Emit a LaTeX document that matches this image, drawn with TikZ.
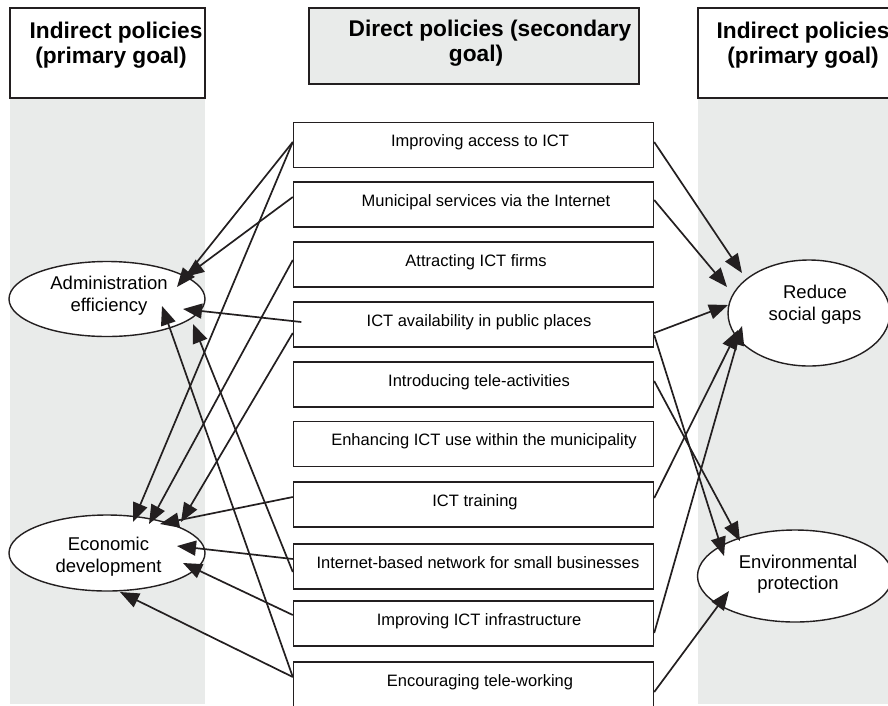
\documentclass[tikz,border=0pt]{standalone}
\usepackage{fontspec}
\setmainfont{Liberation Sans}
\usetikzlibrary{arrows.meta,calc,shapes.geometric}
\definecolor{colgray}{RGB}{233,235,234}
\definecolor{ink}{RGB}{35,31,32}
\newcommand\tshift[1]{\hspace*{#1pt}}
\begin{document}
\begin{tikzpicture}[x=1pt,y=-1pt,
  hdr/.style={draw=ink, line width=1.4pt, rectangle, inner sep=0pt},
  hdrtext/.style={font=\bfseries\fontsize{22.7}{25}\selectfont, align=center, inner sep=0pt, anchor=north},
  pbox/.style={draw=ink, fill=white, line width=1.4pt, rectangle, minimum width=360pt, minimum height=45pt,
    inner sep=0pt, text height=12pt, text depth=9pt, font=\fontsize{16.5}{19}\selectfont},
  ell/.style={ellipse, draw=ink, fill=white, line width=1.4pt, inner sep=0pt},
  etext/.style={font=\fontsize{18.5}{22}\selectfont, align=center, inner sep=0pt},
  arr/.style={draw=ink, line width=1.7pt, -{Triangle[length=19pt 0 0,width=15pt 0]}}
]
\useasboundingbox (0,0) rectangle (888,705);
% grey columns
\fill[colgray] (10,98) rectangle (205,704);
\fill[colgray] (698,98) rectangle (900,704);
% headers
\node[hdr, fill=white, minimum width=195pt, minimum height=90pt] (hL) at (107.5,53) {};
\node[hdr, fill=colgray, minimum width=330pt, minimum height=76pt] (hM) at (474,46) {};
\node[hdr, fill=white, minimum width=195pt, minimum height=90pt] (hR) at (795.5,53) {};
\node[hdrtext] (hLt) at (111,21.7) {\tshift{10}Indirect policies\\(primary goal)};
\node[hdrtext] (hMt) at (476,19.5) {\tshift{28}Direct policies (secondary\\goal)};
\node[hdrtext] (hRt) at (803,21.7) {Indirect policies\\(primary goal)};
% policy boxes
\node[pbox] (b1) at (473.5,145) {\tshift{13}Improving access to ICT};
\node[pbox] (b2) at (473.5,204.5) {\tshift{25}Municipal services via the Internet};
\node[pbox] (b3) at (473.5,264.5) {\tshift{5}Attracting ICT firms};
\node[pbox] (b4) at (473.5,324.5) {\tshift{11}ICT availability in public places};
\node[pbox] (b5) at (473.5,384.5) {\tshift{11}Introducing tele-activities};
\node[pbox] (b6) at (473.5,444) {\tshift{21}Enhancing ICT use within the municipality};
\node[pbox] (b7) at (473.5,504.5) {\tshift{3}ICT training};
\node[pbox] (b8) at (473.5,566.5) {\tshift{9}Internet-based network for small businesses};
\node[pbox] (b9) at (473.5,623.5) {\tshift{11}Improving ICT infrastructure};
\node[pbox] (b10) at (473.5,684.5) {\tshift{13}Encouraging tele-working};
% goal ellipses
\node[ell, minimum width=196pt, minimum height=75pt] (admin) at (107,299) {};
\node[ell, minimum width=196pt, minimum height=76pt] (econ) at (107,553) {};
\node[ell, minimum width=162pt, minimum height=106pt] (gaps) at (809,313) {};
\node[ell, minimum width=195pt, minimum height=92pt] (env) at (795,576) {};
\node[etext] (adminT) at (109,296.2) {Administration\\efficiency};
\node[etext] (econT) at (108.5,556.3) {Economic\\development};
\node[etext] (gapsT) at (815,304.3) {Reduce\\social gaps};
\node[etext, font=\fontsize{18.5}{21}\selectfont] (envT) at (798,573.8) {Environmental\\protection};
% arrows to Administration efficiency
\draw[arr] ($(b1.west)+(0,-3)$) -- ($(admin.center)+(70,-12)$);
\draw[arr] ($(b2.west)+(0,-7.5)$) -- ($(admin.center)+(78,-22)$);
\draw[arr] ($(b4.west)+(8.5,-2.5)$) -- ($(admin.center)+(76,10)$);
\draw[arr] ($(b8.west)+(0,5.5)$) -- ($(admin.center)+(86,25)$);
\draw[arr] ($(b10.west)+(0,-7.5)$) -- ($(admin.center)+(55,7)$);
% arrows to Economic development
\draw[arr] ($(b1.west)+(0,-3)$) -- ($(econ.center)+(26,-31)$);
\draw[arr] ($(b3.west)+(0,-4.5)$) -- ($(econ.center)+(42,-29)$);
\draw[arr] ($(b4.west)+(0,8.5)$) -- ($(econ.center)+(74,-31)$);
\draw[arr] ($(b7.west)+(0,-7.5)$) -- ($(econ.center)+(53,-29)$);
\draw[arr] ($(b8.west)+(0,-7.5)$) -- ($(econ.center)+(70,-7)$);
\draw[arr] ($(b9.west)+(0,-8.5)$) -- ($(econ.center)+(76,10)$);
\draw[arr] ($(b10.west)+(0,-7.5)$) -- ($(econ.center)+(13,39)$);
% arrows to Reduce social gaps
\draw[arr] ($(b1.east)+(0,-3)$) -- ($(gaps.center)+(-67,-40)$);
\draw[arr] ($(b2.east)+(0,-4.5)$) -- ($(gaps.center)+(-82,-26)$);
\draw[arr] ($(b4.east)+(0,8.5)$) -- ($(gaps.center)+(-81,-8)$);
\draw[arr] ($(b7.east)+(0,-6.5)$) -- ($(gaps.center)+(-71,17)$);
\draw[arr] ($(b9.east)+(0,9.5)$) -- ($(gaps.center)+(-67,13)$);
% arrows to Environmental protection
\draw[arr] ($(b4.east)+(0,10.5)$) -- ($(env.center)+(-71,-20)$);
\draw[arr] ($(b5.east)+(0,-3.5)$) -- ($(env.center)+(-55,-35)$);
\draw[arr] ($(b10.east)+(0,7.5)$) -- ($(env.center)+(-66,15)$);
\end{tikzpicture}
\end{document}
